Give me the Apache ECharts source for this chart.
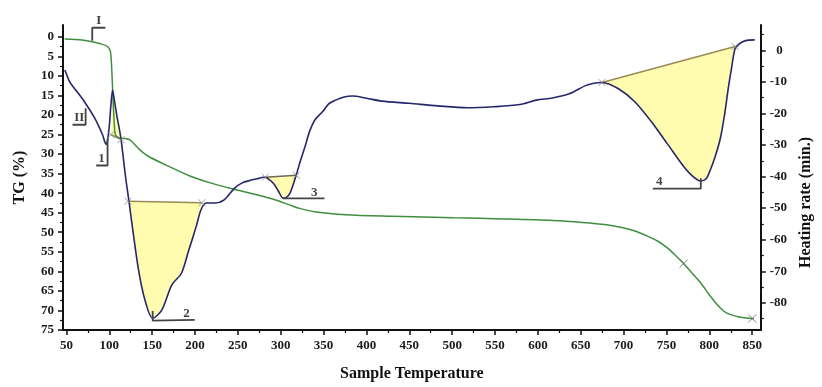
<!DOCTYPE html>
<html>
<head>
<meta charset="utf-8">
<script src="https://cdn.jsdelivr.net/npm/echarts@6/dist/echarts.min.js"></script>
<style>
html,body{margin:0;padding:0;background:#fff;}
#chart{width:822px;height:387px;}
</style>
</head>
<body>
<div id="chart"></div>
<script>
// ---- data ----
const xTicks = [50,100,150,200,250,300,350,400,450,500,550,600,650,700,750,800,850];
const xMinorTicks = [75,125,175,225,275,325,375,425,475,525,575,625,675,725,775,825];
const tgTicks = [0,5,10,15,20,25,30,35,40,45,50,55,60,65,70,75];
const tgMinorTicks = [2.5,7.5,12.5,17.5,22.5,27.5,32.5,37.5,42.5,47.5,52.5,57.5,62.5,67.5,72.5];
const hrTicks = [0,-10,-20,-30,-40,-50,-60,-70,-80];
const hrMinorTicks = [5,-5,-15,-25,-35,-45,-55,-65,-75,-85];

// TG (%) vs sample temperature
const tgData = [
 [48,0.6],[60,0.7],[70,0.9],[80,1.3],[90,1.8],[98,2.5],[101,3.5],[102,5],[103,9],[104,14],
 [105,19],[106,23],[107,25],[110,25.8],[115,26],[120,26.1],[124,26.4],[128,27.2],[135,28.8],
 [145,30.5],[165,32.7],[194,35.6],[220,37.5],[242,38.8],[272,40.4],[295,41.8],[310,43],
 [322,43.9],[341,44.8],[376,45.5],[430,45.9],[502,46.3],[560,46.6],[617,47],[652,47.5],
 [680,48.1],[698,48.8],[715,49.8],[728,51],[740,52.3],[751,54],[760,55.8],[770,58],
 [780,60.5],[790,63],[800,66],[809,68.5],[817,70.2],[824,71],[835,71.7],[847,72],[852,72.1]
];

// Heating rate (min.) vs sample temperature
const hrData = [
 [48,-6.3],[49,-6.8],[54,-10.1],[62,-13],[71,-16.3],[83,-21.5],[92,-26.7],[95,-29.2],
 [96.5,-29.8],[98,-28.5],[100,-24],[102,-17],[103.8,-12.7],[106,-16],[109,-21],[111.5,-24.6],
 [113.8,-28.3],[119,-40.2],[123,-47.9],[126.8,-55.7],[134.5,-70.2],[142,-79.5],[150.6,-84.9],
 [161,-82.4],[173,-74.3],[184,-70.7],[192,-64],[201.5,-55.7],[207,-50.5],[213,-48.4],
 [222.6,-48.4],[234,-47.4],[245.6,-43.8],[255,-42],[264.7,-41.2],[272.5,-40.7],[280,-40.2],
 [284,-40.4],[291.6,-42.2],[297,-44.5],[303,-46.9],[307,-46.5],[310.7,-45.3],[314,-43],
 [318,-39.6],[323,-35],[328,-30.8],[333.7,-25.7],[340,-22],[349,-19.4],[356,-17],[364,-15.8],
 [374,-14.8],[383.6,-14.5],[400,-15.2],[418,-16.1],[450,-16.8],[483,-17.6],[517.6,-18.2],
 [548,-17.9],[579,-17.2],[598,-15.8],[617,-15.1],[636.5,-13.8],[655.5,-11.2],[664,-10.5],
 [674.7,-10.2],[694,-12.2],[713,-16.3],[732,-22.5],[751.5,-29.8],[770.5,-37],[781,-40],
 [790,-41.4],[796,-40.8],[801,-38],[807,-33.5],[813,-27.7],[818,-20],[822,-12.2],[826,-5.5],
 [830,0.5],[835,2],[839.5,2.8],[846,3.2],[853,3.3]
];

// peak baselines (start, end) on heating-rate scale
const peakBase1 = [[102,-26.7],[113.8,-28.3]];
const peakBase2 = [[122,-47.8],[208,-48.3]];
const peakBase3 = [[282,-40.2],[318.4,-39.6]];
const peakBase4 = [[674.7,-10.2],[830,1.2]];
const peakBases = [peakBase1, peakBase2, peakBase3, peakBase4];

// annotation brackets
const bracketI = [[80.1,1.05],[80.1,-2.3],[95.4,-2.3]];      // TG scale
const bracketII = [[72.4,-18.4],[72.4,-23.6],[57.1,-23.6]];   // HR scale
const bracket1 = [[98,-28.3],[98,-36.5],[84.7,-36.5]];
const bracket2 = [[150.6,-82.6],[150.6,-85.6],[150.6,-85.4],[199.7,-85.4]];
const bracket3 = [[303,-46.9],[351,-46.9]];
const bracket4 = [[790,-40.5],[790,-43.8],[734,-43.8]];
const labelsTG = [[87.7,-4.2,'I']];
const labelsHR = [[65,-21.2,'II'],[91,-34.2,'1'],[190,-83.4,'2'],[339,-45.2,'3'],[741.7,-41.6,'4']];

const crossHR = [[102,-26.7],[113.8,-28.3],[122,-47.8],[208,-48.3],[282,-40.2],[318.4,-39.6],[674.7,-10.2],[830,1.2]];
const crossTG = [[770,58],[850,72.05]];

// ---- chart ----
const FONT = 'Liberation Serif';
const chart = echarts.init(document.getElementById('chart'), null, {renderer:'canvas'});
const axisLineStyle = {color:'#111', width:2};
const labelStyle = {fontFamily:FONT, fontWeight:'bold', fontSize:13, color:'#1a1a1a'};
const XMIN = 46, XMAX = 860, TGMIN = -3, TGMAX = 75, HRMIN = -88.6, HRMAX = 8;

const crossSymbol = 'path://M0,0L10,10M10,0L0,10';

const series = [];
// yellow peak areas
series.push({
  type:'custom', xAxisIndex:0, yAxisIndex:1, z:1, silent:true,
  data: peakBases.map(b => b[0]),
  renderItem: function(params, api){
    const b = peakBases[params.dataIndex];
    const pts = [b[0]].concat(hrData.filter(p => p[0] > b[0][0] && p[0] < b[1][0])).concat([b[1]]);
    return {type:'polygon', shape:{points: pts.map(p => api.coord(p))}, style:{fill:'#fffcb0', stroke:null}};
  }
});
// baselines
peakBases.forEach((b,i) => {
  series.push({type:'line', xAxisIndex:0, yAxisIndex:1, data:b, symbol:'none', silent:true, z:3,
    lineStyle:{color: i===2 ? '#6e6650' : '#9a8a58', width:1.5}});
});
// curves
series.push({name:'TG', type:'line', xAxisIndex:0, yAxisIndex:0, data:tgData, symbol:'none', smooth:0.3, z:4,
  lineStyle:{color:'#3f8f3f', width:1.5}});
series.push({name:'Heating rate', type:'line', xAxisIndex:0, yAxisIndex:1, data:hrData, symbol:'none', smooth:0.3, z:5,
  lineStyle:{color:'#26266a', width:1.6}});
// brackets
[bracket1,bracket2,bracket3,bracket4,bracketII].forEach(b => {
  series.push({type:'line', xAxisIndex:0, yAxisIndex:1, data:b, symbol:'none', silent:true, z:6, clip:false,
    lineStyle:{color:'#444', width:1.8}});
});
series.push({type:'line', xAxisIndex:0, yAxisIndex:0, data:bracketI, symbol:'none', silent:true, z:6, clip:false,
  lineStyle:{color:'#444', width:1.8}});
// labels
series.push({type:'scatter', xAxisIndex:0, yAxisIndex:1, data:labelsHR, symbolSize:0, silent:true, z:7, clip:false,
  label:{show:true, position:'inside', formatter:p => p.data[2], fontFamily:FONT, fontWeight:'bold', fontSize:13, color:'#111'}});
series.push({type:'scatter', xAxisIndex:0, yAxisIndex:0, data:labelsTG, symbolSize:0, silent:true, z:7, clip:false,
  label:{show:true, position:'inside', formatter:p => p.data[2], fontFamily:FONT, fontWeight:'bold', fontSize:13, color:'#111'}});
// cross markers
series.push({type:'scatter', xAxisIndex:0, yAxisIndex:1, data:crossHR, symbol:crossSymbol, symbolSize:7, silent:true, z:8,
  itemStyle:{color:'none', borderColor:'#888', borderWidth:1}});
series.push({type:'scatter', xAxisIndex:0, yAxisIndex:0, data:crossTG, symbol:crossSymbol, symbolSize:8, silent:true, z:8,
  itemStyle:{color:'none', borderColor:'#666', borderWidth:1}});

const option = {
  backgroundColor:'#ffffff',
  animation:false,
  grid:{left:63, right:50.5, top:25, bottom:51, containLabel:false},
  xAxis:[
    {type:'value', min:XMIN, max:XMAX, position:'bottom',
     name:'Sample Temperature', nameLocation:'middle', nameGap:36,
     nameTextStyle:{fontFamily:FONT, fontWeight:'bold', fontSize:16, color:'#111'},
     axisLine:{show:true, onZero:false, lineStyle:axisLineStyle},
     axisTick:{show:true, customValues:xTicks, length:5, lineStyle:{color:'#111', width:1.5}},
     axisLabel:Object.assign({customValues:xTicks, margin:9}, labelStyle),
     splitLine:{show:false}},
    {type:'value', min:XMIN, max:XMAX, position:'bottom',
     axisLine:{show:false, onZero:false},
     axisTick:{show:true, customValues:xMinorTicks, length:3, lineStyle:{color:'#111', width:1.2}},
     axisLabel:{show:false}, splitLine:{show:false}}
  ],
  yAxis:[
    {type:'value', min:TGMIN, max:TGMAX, inverse:true, position:'left',
     name:'TG (%)', nameLocation:'middle', nameGap:35,
     nameTextStyle:{fontFamily:FONT, fontWeight:'bold', fontSize:16, color:'#111'},
     axisLine:{show:true, onZero:false, lineStyle:axisLineStyle},
     axisTick:{show:true, customValues:tgTicks, length:5, lineStyle:{color:'#111', width:1.5}},
     axisLabel:Object.assign({customValues:tgTicks, margin:9}, labelStyle),
     splitLine:{show:false}},
    {type:'value', min:HRMIN, max:HRMAX, position:'right',
     name:'Heating rate (min.)', nameLocation:'middle', nameGap:34,
     nameTextStyle:{fontFamily:FONT, fontWeight:'bold', fontSize:16, color:'#111', padding:[0,50,0,0]},
     axisLine:{show:true, onZero:false, lineStyle:axisLineStyle},
     axisTick:{show:true, customValues:hrTicks, length:5, lineStyle:{color:'#111', width:1.5}},
     axisLabel:Object.assign({customValues:hrTicks, margin:9, formatter:v => (v >= 0 ? '\u2002' + v : String(v))}, labelStyle),
     splitLine:{show:false}},
    {type:'value', min:TGMIN, max:TGMAX, inverse:true, position:'left',
     axisLine:{show:false, onZero:false},
     axisTick:{show:true, customValues:tgMinorTicks, length:3, lineStyle:{color:'#111', width:1.2}},
     axisLabel:{show:false}, splitLine:{show:false}},
    {type:'value', min:HRMIN, max:HRMAX, position:'right',
     axisLine:{show:false, onZero:false},
     axisTick:{show:true, customValues:hrMinorTicks, length:3, lineStyle:{color:'#111', width:1.2}},
     axisLabel:{show:false}, splitLine:{show:false}}
  ],
  series: series
};
chart.setOption(option);
</script>
</body>
</html>
